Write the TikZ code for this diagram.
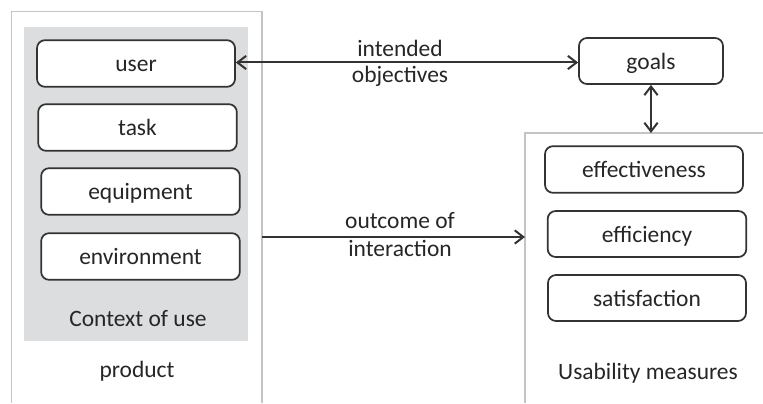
\documentclass[tikz,border=0pt]{standalone}
\usepackage{fontspec}
\setmainfont{Carlito}
\usetikzlibrary{arrows.meta}
\definecolor{txt}{HTML}{262626}
\definecolor{boxline}{HTML}{333333}
\definecolor{frameline}{HTML}{C4C4C4}
\definecolor{ctxfill}{HTML}{DCDDDF}
\tikzset{
  itembox/.style={draw=boxline, line width=1.3pt, rounded corners=6pt, fill=white,
    minimum height=35pt, inner sep=0pt, text=txt, font=\fontsize{17.6}{20}\selectfont,
    text height=14.3pt, text depth=2.2pt},
  plain/.style={text=txt, font=\fontsize{17.6}{20}\selectfont, inner sep=0pt},
  frame/.style={draw=frameline, line width=1.2pt},
  conn/.style={draw=boxline, line width=1.5pt},
  tip/.style={-{Straight Barb[length=6.5pt,width=10pt,line width=1.5pt]}},
  dtip/.style={{Straight Barb[length=6.5pt,width=10pt,line width=1.5pt]}-{Straight Barb[length=6.5pt,width=10pt,line width=1.5pt]}}
}
\begin{document}
\begin{tikzpicture}[x=0.75pt,y=-0.75pt]
\useasboundingbox (0,0) rectangle (763,403);
% product frame (open at bottom)
\draw[frame] (11.5,403) -- (11.5,11.5) -- (262,11.5) -- (262,403);
% context of use background
\fill[ctxfill] (24,27) rectangle (248,341);
% usability measures frame (top and left only)
\draw[frame] (763,133) -- (525,133) -- (525,403);
% items
\node[itembox, minimum width=148.5pt] (user) at (136,63.5) {user};
\node[itembox, minimum width=149pt] (task) at (137.5,127.5) {task};
\node[itembox, minimum width=149pt] (equip) at (140.5,191.5) {equipment};
\node[itembox, minimum width=149pt] (env) at (140.5,256.5) {environment};
\node[plain] (ctx) at (138,319) {Context of use};
\node[plain] (prod) at (137,371) {product};
\node[itembox, minimum width=108pt, minimum height=34.5pt] (goals) at (651,61) {goals};
\node[itembox, minimum width=148.5pt] (eff) at (644,169.5) {effectiveness};
\node[itembox, minimum width=149pt, minimum height=34.5pt] (effi) at (647,234) {efficiency};
\node[itembox, minimum width=148.5pt, minimum height=34.5pt] (sat) at (647,298) {satisfaction};
\node[plain] (usab) at (648,373) {Usability measures};
% labels
\node[plain] (l1) at (400,48) {intended};
\node[plain] (l2) at (400,76) {objectives};
\node[plain] (l3) at (400,221) {outcome of};
\node[plain] (l4) at (400,248) {interaction};
% connectors
\coordinate (prodR) at (262,237);
\coordinate (usaL) at (525,237);
\coordinate (usaT) at (651,133);
\draw[conn, dtip] (user.east |- 0,62.5) -- (goals.west |- 0,62.5);
\draw[conn, dtip] (goals.south) -- (usaT);
\draw[conn, tip] (prodR) -- (usaL);
\end{tikzpicture}
\end{document}
